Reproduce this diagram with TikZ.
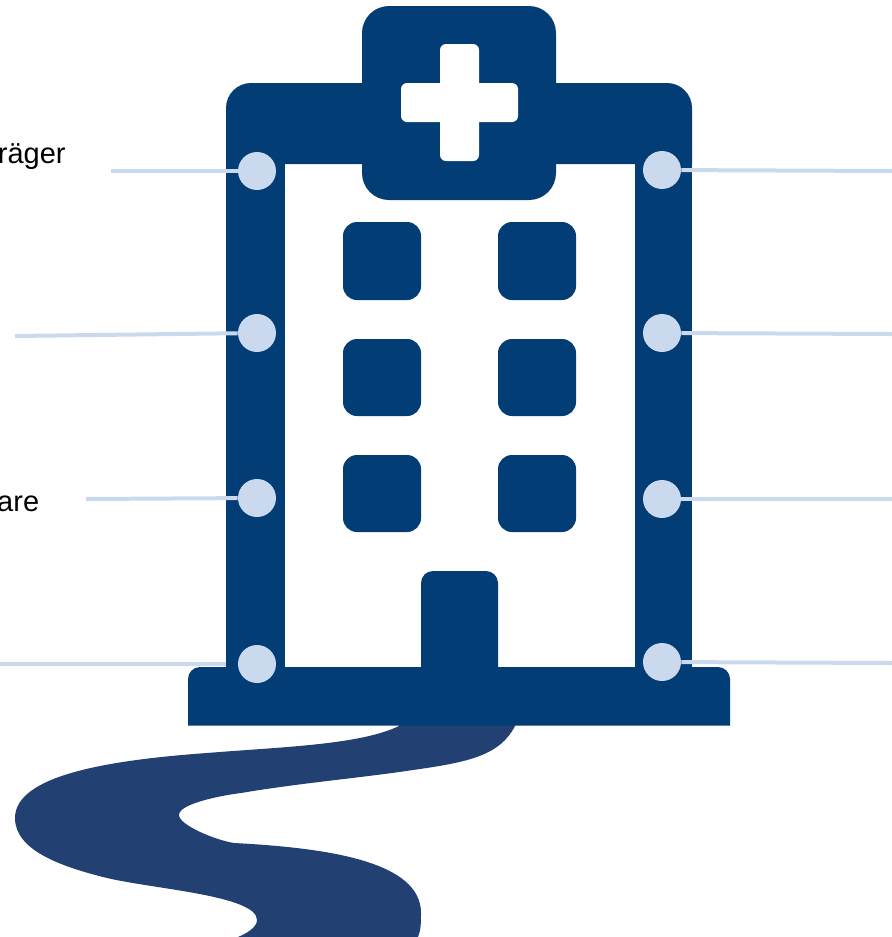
\documentclass[tikz,border=0pt]{standalone}
\usepackage{fontspec}
\setmainfont{Liberation Sans}
\usetikzlibrary{backgrounds}
\definecolor{housecol}{HTML}{023D75}
\definecolor{roadcol}{HTML}{224072}
\definecolor{dotcol}{HTML}{CBD9EF}
\tikzset{
  house/.style={fill=housecol,draw=none},
  hole/.style={fill=white,draw=none},
  dot/.style={circle,fill=dotcol,draw=none,inner sep=0pt,minimum size=.76cm},
  leader/.style={draw=dotcol,line width=.08cm},
  lab/.style={font=\fontsize{16.5pt}{20pt}\selectfont,text=black,inner sep=0pt,anchor=base east}
}
\begin{document}
\begin{tikzpicture}[x=.02cm,y=-.02cm]
  \clip (0,0) rectangle (892,937);
  % road
  \fill[roadcol] (399,720) -- (399,726)
    .. controls (360,745) and (280,747) .. (207,753)
    .. controls (110,760) and (15,775) .. (15,818)
    .. controls (15,850) and (60,866) .. (103,877)
    .. controls (150,889) and (257,895) .. (257,920)
    .. controls (257,928) and (245,934) .. (238,937)
    -- (418,937)
    .. controls (421,930) and (421,922) .. (421,913)
    .. controls (421,862) and (330,848) .. (234,843)
    .. controls (215,840) and (179,825) .. (179,815)
    .. controls (179,803) and (225,795) .. (241,793)
    .. controls (300,783) and (360,778) .. (413,770)
    .. controls (470,762) and (500,755) .. (515,726)
    -- (515,720) -- cycle;
  % building
  \fill[house] (226,164) [rounded corners=.5cm] -- (226,83) -- (692,83) [sharp corners] -- (692,164) -- cycle;
  \fill[house] (226,150) rectangle (285,680);
  \fill[house] (635,150) rectangle (692,680);
  \fill[house] (188,725.5) [rounded corners=.24cm] -- (188,667) -- (730,667) [sharp corners] -- (730,725.5) -- cycle;
  \fill[house,rounded corners=.24cm] (421,680) -- (421,571) -- (498,571) -- (498,680) -- cycle;
  % top box and cross
  \fill[house,rounded corners=.54cm] (362,6) rectangle (556,200);
  \fill[hole,rounded corners=.12cm] (440,44) rectangle (479,161);
  \fill[hole,rounded corners=.12cm] (401,83) rectangle (518,122);
  % windows
  \fill[house,rounded corners=.28cm] (343,222) rectangle (421,300);
  \fill[house,rounded corners=.28cm] (498,222) rectangle (576,300);
  \fill[house,rounded corners=.28cm] (343,339) rectangle (421,416);
  \fill[house,rounded corners=.28cm] (498,339) rectangle (576,416);
  \fill[house,rounded corners=.28cm] (343,455) rectangle (421,532);
  \fill[house,rounded corners=.28cm] (498,455) rectangle (576,532);
  % dots
  \node[dot] (lone) at (257,171) {};
  \node[dot] (ltwo) at (257,333) {};
  \node[dot] (lthree) at (257,498) {};
  \node[dot] (lfour) at (257,664) {};
  \node[dot] (rone) at (662,170) {};
  \node[dot] (rtwo) at (662,333) {};
  \node[dot] (rthree) at (662,499) {};
  \node[dot] (rfour) at (662,662) {};
  % free ends
  \coordinate (lendone) at (111,171);
  \coordinate (lendtwo) at (15,336);
  \coordinate (lendthree) at (86,499);
  \coordinate (lendfour) at (0,664);
  \coordinate (rendone) at (892,171);
  \coordinate (rendtwo) at (892,334);
  \coordinate (rendthree) at (892,499);
  \coordinate (rendfour) at (892,663);
  \draw[leader] (lendone) -- (lone);
  \draw[leader] (lendtwo) -- (ltwo);
  \draw[leader] (lendthree) -- (lthree);
  \begin{scope}[on background layer]
    \draw[leader] (lendfour) -- (lfour);
  \end{scope}
  \draw[leader] (rone) -- (rendone);
  \draw[leader] (rtwo) -- (rendtwo);
  \draw[leader] (rthree) -- (rendthree);
  \draw[leader] (rfour) -- (rendfour);
  % labels
  \node[lab] (traeger) at (66,163) {räger};
  \node[lab] (are) at (39.5,511) {are};
\end{tikzpicture}
\end{document}
